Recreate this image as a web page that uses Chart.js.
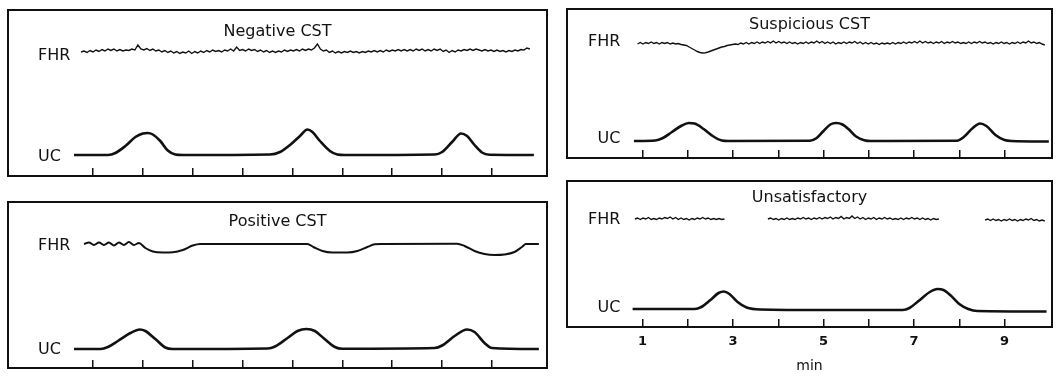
<!DOCTYPE html>
<html>
<head>
<meta charset="utf-8">
<script src="https://cdn.jsdelivr.net/npm/chart.js@4.4.1/dist/chart.umd.min.js"></script>
<style>
  body { margin: 0; background: #fff; }
  .panel { position: absolute; }
</style>
</head>
<body>
<div class="panel" style="left:0;top:0;width:556px;height:186px"><canvas id="negChart"></canvas></div>
<div class="panel" style="left:0;top:192px;width:556px;height:184px"><canvas id="posChart"></canvas></div>
<div class="panel" style="left:559px;top:0;width:500px;height:168px"><canvas id="suspChart"></canvas></div>
<div class="panel" style="left:559px;top:171px;width:500px;height:205px"><canvas id="unsatChart"></canvas></div>
<script>
const ink = "#111";
const fontFamily = "'DejaVu Sans', sans-serif";

// x axis, minutes
const minuteTicks = [1, 2, 3, 4, 5, 6, 7, 8, 9];
const minuteLabels = ["1", "", "3", "", "5", "", "7", "", "9"];
const traceNames = ["UC", "FHR"];

// FHR traces sampled every fhrStep minutes (null = signal lost)
const fhrStep = 0.06;

const negFhrStart = 0.76;
const negFhr = [
  103, 104, 102.5, 104.5, 103, 105, 103.5, 105.5, 104, 106,
  104.5, 106, 104, 105.5, 104, 105, 104.5, 106, 105, 110,
  106, 105, 106.5, 104.5, 106, 104, 105, 103, 104.5, 102.5,
  104, 102, 103.5, 101.5, 103, 102, 104, 101.5, 103.5, 102,
  104, 102.5, 104.5, 103, 105, 103.5, 104.5, 103, 105, 104,
  106, 104, 108, 104.5, 105.5, 104, 106, 104.5, 105.5, 103.5,
  105, 103, 104.5, 102.5, 104, 102.5, 104, 103, 105, 103.5,
  105, 104, 105.5, 104, 106, 104.5, 106, 105, 107, 111,
  106, 104, 105, 102.5, 104, 102, 103.5, 102, 103.5, 102.5,
  104, 102.5, 103.5, 102, 103.5, 102.5, 104, 103, 104.5, 103,
  104.5, 103, 105, 103.5, 105, 104, 105.5, 104, 105.5, 104,
  105.5, 104, 106, 104.5, 106, 104, 105.5, 104, 106, 104.5,
  106, 103.5, 105, 102.5, 104.5, 103, 105, 104, 105.5, 104.5,
  106, 104.5, 106, 105, 104, 105.5, 104, 105, 103.5, 105,
  103.5, 104.5, 103, 104.5, 103.5, 105, 104, 105.5, 105, 107, 106
];
const negUc = [
  [0.62, 0], [1.3, 0], [1.45, 2], [1.65, 9], [1.85, 18], [2.0, 21.5], [2.1, 22],
  [2.2, 20.5], [2.35, 14], [2.5, 4.5], [2.65, 0.5], [2.8, 0],
  [4.55, 0.5], [4.75, 3], [4.95, 10], [5.15, 19], [5.3, 25.5], [5.4, 23], [5.55, 14],
  [5.75, 4], [5.9, 0.5], [6.05, 0],
  [7.85, 0.5], [8.0, 3], [8.2, 13], [8.38, 21.5], [8.5, 19], [8.65, 10], [8.8, 2.5],
  [8.95, 0.3], [9.84, 0]
];

const posFhr = [
  [0.82, 105], [0.92, 106.5], [1.02, 104], [1.12, 106.5], [1.22, 104], [1.32, 106.5],
  [1.42, 103.5], [1.52, 106.5], [1.62, 104], [1.72, 107], [1.82, 104], [1.92, 106],
  [2.05, 101], [2.2, 97.5], [2.4, 96.5], [2.6, 96.8], [2.8, 99], [3.0, 103.5], [3.15, 105],
  [5.3, 105], [5.42, 102], [5.6, 98], [5.8, 96.5], [6.1, 96.5], [6.3, 98], [6.5, 102],
  [6.65, 104.7], [6.8, 105],
  [8.3, 105.3], [8.45, 103], [8.65, 98], [8.85, 95], [9.05, 94], [9.25, 94.5], [9.45, 97],
  [9.6, 102], [9.68, 105], [9.94, 105]
];
const posUc = [
  [0.62, 0], [1.15, 0], [1.3, 2], [1.5, 8], [1.75, 16], [1.94, 19.5], [2.05, 18],
  [2.25, 10], [2.45, 1.5], [2.6, 0],
  [4.5, 0.5], [4.65, 2.5], [4.9, 11], [5.1, 18], [5.28, 20], [5.45, 18], [5.62, 11],
  [5.85, 2], [6.0, 0.3],
  [7.85, 1], [8.0, 3.5], [8.25, 13], [8.5, 19.5], [8.65, 17], [8.85, 6], [9.0, 1], [9.94, 0]
];

const suspFhrStart = 0.89;
const suspFhr = [
  97, 98.5, 97, 98.5, 97.5, 99, 97.5, 98.5, 97, 98.5,
  97.5, 98.5, 97, 98, 97, 97.5, 96.5, 96,
  95.5, 94, 92.5, 91, 89.5, 88.5, 88, 88.3, 89, 90, 91, 92, 93, 94, 94.5, 95.5, 96, 96.5,
  97, 96.5, 98, 97, 98.5, 97, 98.5, 97.5, 99, 97.5,
  99, 98, 99.5, 98, 100, 98, 99.5, 98, 99, 97.5,
  99, 97.5, 98.5, 97, 98.5, 97.5, 99, 97.5, 99, 98,
  100, 98, 99.5, 97.5, 99, 97.5, 99, 97, 98.5, 97.5,
  99, 97.5, 99, 98, 99.5, 97.5, 99, 97, 98.5, 97,
  98.5, 97, 98, 96.5, 98, 97, 98, 97, 98.5, 97,
  98.5, 97.5, 99, 97.5, 99, 98, 99.5, 98, 100, 98,
  99.5, 98, 99, 97.5, 99, 98, 99.5, 97.5, 99, 98,
  99.5, 98, 99, 97.5, 98.5, 97.5, 99, 97.5, 99, 98,
  99.5, 98, 99, 97.5, 98.5, 97, 98.5, 97.5, 99, 97.5,
  98.5, 97, 98.5, 97.5, 99, 97.5, 99, 98, 100, 98,
  99, 97.5, 98.5, 97, 96
];
const suspUc = [
  [0.81, 0], [1.28, 0.5], [1.45, 3], [1.65, 9], [1.85, 15], [2.02, 18], [2.15, 17.5],
  [2.35, 12], [2.55, 5], [2.75, 0.5], [2.9, 0],
  [4.7, 0.3], [4.85, 3], [5.0, 10], [5.15, 16.5], [5.28, 18], [5.42, 16.5], [5.55, 12],
  [5.72, 4.5], [5.9, 0.8], [6.05, 0],
  [7.95, 0.3], [8.1, 4], [8.3, 13], [8.46, 17.5], [8.6, 15], [8.8, 6], [9.0, 1],
  [9.15, 0], [9.98, -0.5]
];

const unsatFhrStart = 0.83;
const unsatFhr = [
  90, 91, 89.5, 91, 90, 91.5, 89.5, 90.5, 89.5, 91,
  90, 91.5, 90.5, 92, 90, 91.5, 89.5, 91, 89.5, 90.5,
  89, 90.5, 89.5, 91, 90, 91.5, 90, 91, 89.5, 90.5,
  89.5, 90.5, 89.5, 90,
  null, null, null, null, null, null, null, null, null, null, null, null, null, null, null,
  90, 91, 89.5, 90.5, 89, 90.5, 89.5, 91, 89.5, 90.5,
  89.5, 91, 90, 91.5, 90, 91, 89.5, 91, 90, 91.5,
  90, 91.5, 90.5, 92, 90, 91.5, 90.5, 92.5, 90, 91.5,
  90.5, 93, 90.5, 92, 90, 91.5, 89.5, 91, 90, 91.5,
  89.5, 91, 90, 91.5, 90, 91, 89.5, 90.5, 89.5, 91,
  89.5, 91, 90, 91.5, 90, 91, 89.5, 91, 89.5, 90.5,
  89, 90.5, 89.5, 90,
  null, null, null, null, null, null, null, null, null, null, null, null, null, null, null, null,
  89, 90, 88.5, 90, 88.5, 89.5, 88, 89.5, 88.5, 90,
  88.5, 89.5, 88, 89.5, 88.5, 90, 89, 90.5, 88.5, 89.5,
  88, 89, 88
];
const unsatUc = [
  [0.78, 0], [2.15, 0], [2.3, 2], [2.5, 9], [2.68, 16], [2.8, 17.5], [2.92, 15],
  [3.1, 7], [3.3, 1.5], [3.6, -0.5], [5.0, -1], [6.75, -1],
  [6.9, 1], [7.1, 8], [7.35, 17], [7.52, 20], [7.65, 19], [7.8, 14], [8.0, 5],
  [8.2, 0], [8.4, -2], [9.93, -2.5]
];

function sampled(start, values) {
  return values.map((v, i) => ({ x: +(start + i * fhrStep).toFixed(2), y: v }));
}

function pairs(list) {
  return list.map(([x, y]) => ({ x, y }));
}

// box around title + plot area
const framePlugin = {
  id: "frame",
  afterDraw(chart) {
    const { ctx, chartArea } = chart;
    const top = chart.titleBlock.top;
    ctx.save();
    ctx.strokeStyle = ink;
    ctx.lineWidth = 2;
    ctx.strokeRect(chartArea.left, top, chartArea.right - chartArea.left, chartArea.bottom - top);
    ctx.restore();
  }
};

function drawPanel(id, p) {
  new Chart(document.getElementById(id), {
    type: "line",
    data: {
      datasets: [
        {
          data: p.fhr,
          borderColor: ink,
          borderWidth: p.fhrWidth,
          tension: 0,
          cubicInterpolationMode: p.fhrMode,
          pointRadius: 0,
          spanGaps: false
        },
        {
          data: p.uc,
          borderColor: ink,
          borderWidth: 2.6,
          cubicInterpolationMode: "monotone",
          pointRadius: 0
        }
      ]
    },
    options: {
      responsive: true,
      maintainAspectRatio: false,
      animation: false,
      layout: { padding: p.padding },
      plugins: {
        legend: { display: false },
        tooltip: { enabled: false },
        title: {
          display: true,
          text: p.title,
          color: ink,
          font: { family: fontFamily, size: 16, weight: "normal", lineHeight: 1.125 },
          padding: { top: p.titleTop, bottom: 0 }
        }
      },
      scales: {
        x: {
          type: "linear",
          min: p.xMin,
          max: p.xMax,
          afterBuildTicks: s => { s.ticks = minuteTicks.map(v => ({ value: v })); },
          afterFit: s => {
            s.height = p.axisHeight;
            s.paddingLeft = 0;
            s.paddingRight = 0;
          },
          border: { display: false },
          grid: { drawOnChartArea: false, drawTicks: true, tickLength: -8, color: ink, lineWidth: 1.5 },
          ticks: {
            display: p.showLabels,
            autoSkip: false,
            maxRotation: 0,
            padding: 15,
            color: ink,
            font: { family: fontFamily, size: 13, weight: "bold" },
            callback: (v, i) => minuteLabels[i]
          },
          title: {
            display: p.showLabels,
            text: "min",
            color: ink,
            font: { family: fontFamily, size: 14 },
            padding: { top: 0, bottom: 1 }
          }
        },
        y: {
          type: "linear",
          min: p.yMin,
          max: p.yMax,
          afterBuildTicks: s => { s.ticks = p.labelLevels.map(v => ({ value: v })); },
          afterFit: s => {
            s.width = 0;
            s.paddingTop = 0;
            s.paddingBottom = 0;
          },
          border: { display: false },
          grid: { display: false, drawTicks: false },
          ticks: {
            mirror: true,
            crossAlign: p.labelAlign,
            padding: p.labelPad,
            color: ink,
            font: { family: fontFamily, size: 16 },
            callback: (v, i) => traceNames[i]
          }
        }
      }
    },
    plugins: [framePlugin]
  });
}

drawPanel("negChart", {
  title: "Negative CST",
  fhr: sampled(negFhrStart, negFhr), uc: pairs(negUc),
  fhrWidth: 1.4, fhrMode: "default",
  padding: { left: 8, right: 9, top: 10, bottom: 10 }, titleTop: 13, axisHeight: 0,
  xMin: -0.704, xMax: 10.103, yMin: -21, yMax: 114,
  labelLevels: [-2, 99], labelAlign: "near", labelPad: 30, showLabels: false
});

drawPanel("posChart", {
  title: "Positive CST",
  fhr: pairs(posFhr), uc: pairs(posUc),
  fhrWidth: 2, fhrMode: "monotone",
  padding: { left: 8, right: 9, top: 10, bottom: 8 }, titleTop: 11, axisHeight: 0,
  xMin: -0.704, xMax: 10.103, yMin: -19, yMax: 118,
  labelLevels: [-1, 103], labelAlign: "near", labelPad: 30, showLabels: false
});

drawPanel("suspChart", {
  title: "Suspicious CST",
  fhr: sampled(suspFhrStart, suspFhr), uc: pairs(suspUc),
  fhrWidth: 1.4, fhrMode: "default",
  padding: { left: 8, right: 7, top: 9, bottom: 10 }, titleTop: 7, axisHeight: 0,
  xMin: -0.67, xMax: 10.05, yMin: -17, yMax: 107,
  labelLevels: [2, 99], labelAlign: "far", labelPad: 21, showLabels: false
});

drawPanel("unsatChart", {
  title: "Unsatisfactory",
  fhr: sampled(unsatFhrStart, unsatFhr), uc: pairs(unsatUc),
  fhrWidth: 1.4, fhrMode: "default",
  padding: { left: 8, right: 7, top: 10, bottom: 0 }, titleTop: 8, axisHeight: 49,
  xMin: -0.67, xMax: 10.05, yMin: -18, yMax: 102,
  labelLevels: [1.5, 89], labelAlign: "far", labelPad: 21, showLabels: true
});
</script>
</body>
</html>
